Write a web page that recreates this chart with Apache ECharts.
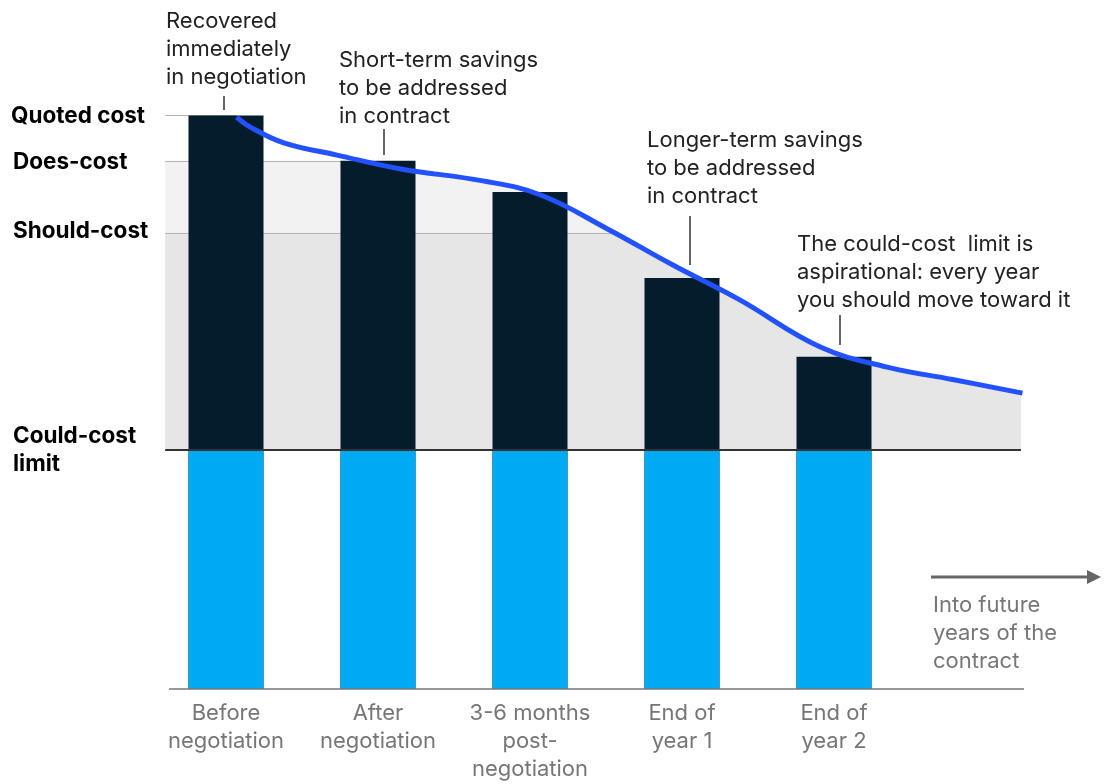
<!DOCTYPE html>
<html><head><meta charset="utf-8">
<script src="https://cdn.jsdelivr.net/npm/echarts@6/dist/echarts.min.js"></script>
<style>html,body{margin:0;padding:0;background:#fff}#c{width:1108px;height:784px}</style>
</head><body><div id="c"></div>
<script>
// ---------- data ----------
const categories = ['Before\nnegotiation', 'After\nnegotiation', '3-6 months\npost-\nnegotiation', 'End of\nyear 1', 'End of\nyear 2', ''];
const barTotals = [240, 221, 208, 172, 139];          // top of dark bars
const baseValues = [100, 100, 100, 100, 100];         // blue part up to could-cost limit
const levelNames = ['Quoted cost', 'Does-cost', 'Should-cost', 'Could-cost\nlimit'];
const levelValues = [240, 221, 191, 100];
const curveX = [1.07, 1.16, 1.38, 1.73, 2.15, 2.69, 3.07, 3.51, 3.94, 4.38, 4.91, 5.35, 5.78, 6.24];
const curveY = [239.3, 235.1, 228.5, 223.4, 217.6, 212.6, 206.7, 192.5, 177.4, 162.8, 143.1, 134.7, 129.5, 123.8];
const annotationTexts = [
  'Recovered\nimmediately\nin negotiation',
  'Short-term savings\nto be addressed\nin contract',
  'Longer-term savings\nto be addressed\nin contract',
  'The could-cost  limit is\naspirational: every year\nyou should move toward it'
];
const futureNote = 'Into future\nyears of the\ncontract';

// ---------- layout / style ----------
const FONT = 'Inter, Roboto, sans-serif';
const bandStart = 0.6, bandEnd = 6.23, axisStart = 0.625, axisEnd = 6.25;
const [quoted, doesCost, shouldCost, couldCost] = levelValues;
const bands = [
  [bandStart, bandEnd, couldCost, shouldCost],
  [bandStart, bandEnd, shouldCost, doesCost]
];
const bandColors = ['#e6e6e6', '#f2f2f2'];
const refLines = [
  [bandStart, bandEnd, quoted],
  [bandStart, bandEnd, doesCost],
  [bandStart, bandEnd, shouldCost]
];
const baseLines = [
  [bandStart, bandEnd, couldCost],
  [axisStart, axisEnd, 0]
];
const baseLineStyles = [{ stroke: '#333333', lineWidth: 2 }, { stroke: '#777777', lineWidth: 1.5 }];
const curveData = curveX.map((x, i) => [x, curveY[i]]);
const SMOOTH = 0.4;

const chart = echarts.init(document.getElementById('c'), null, { renderer: 'canvas' });
chart.setOption({
  animation: false,
  grid: { left: 150, right: 46, top: 91.5, bottom: 95 },
  xAxis: [
    {
      type: 'category', data: categories,
      axisLine: { show: false }, axisTick: { show: false },
      axisLabel: { interval: 0, color: '#767676', fontSize: 22, lineHeight: 28, fontFamily: FONT, margin: 10 }
    },
    { type: 'value', min: 0.5, max: 6.5, show: false }
  ],
  yAxis: { type: 'value', min: 0, max: 250, show: false },
  series: [
    {
      type: 'custom', name: 'bands', xAxisIndex: 1, z: 1, silent: true,
      data: bands,
      renderItem: function (params, api) {
        const p0 = api.coord([api.value(0), api.value(3)]);
        const p1 = api.coord([api.value(1), api.value(2)]);
        return { type: 'rect', shape: { x: p0[0], y: p0[1], width: p1[0] - p0[0], height: p1[1] - p0[1] },
                 style: { fill: bandColors[params.dataIndex] } };
      }
    },
    {
      type: 'custom', name: 'refLines', xAxisIndex: 1, z: 1.5, silent: true,
      data: refLines,
      renderItem: function (params, api) {
        const p0 = api.coord([api.value(0), api.value(2)]);
        const p1 = api.coord([api.value(1), api.value(2)]);
        return { type: 'line', shape: { x1: p0[0], y1: Math.round(p0[1]) + 0.5, x2: p1[0], y2: Math.round(p0[1]) + 0.5 },
                 style: { stroke: '#b3b3b3', lineWidth: 1 } };
      }
    },
    {
      type: 'line', name: 'mask', xAxisIndex: 1, z: 2, silent: true,
      data: curveData, smooth: SMOOTH, symbol: 'none',
      lineStyle: { width: 0, opacity: 0 },
      areaStyle: { color: '#ffffff', opacity: 1, origin: 'end' }
    },
    {
      type: 'bar', name: 'total', xAxisIndex: 0, z: 3, data: barTotals,
      barWidth: 75, barGap: '-100%', itemStyle: { color: '#051c2c' }
    },
    {
      type: 'bar', name: 'base', xAxisIndex: 0, z: 4, data: baseValues,
      barWidth: 75, barGap: '-100%', itemStyle: { color: '#00a9f4' }
    },
    {
      type: 'custom', name: 'baseLines', xAxisIndex: 1, z: 5, silent: true,
      data: baseLines,
      renderItem: function (params, api) {
        const p0 = api.coord([api.value(0), api.value(2)]);
        const p1 = api.coord([api.value(1), api.value(2)]);
        return { type: 'line', shape: { x1: p0[0], y1: p0[1], x2: p1[0], y2: p1[1] },
                 style: baseLineStyles[params.dataIndex] };
      }
    },
    {
      type: 'line', name: 'curve', xAxisIndex: 1, z: 6,
      data: curveData, smooth: SMOOTH, symbol: 'none',
      lineStyle: { color: '#2251ff', width: 5, cap: 'butt' }
    }
  ]
});

// ---------- texts ----------
const g = [];
function addLines(text, x, y0, step, font, fill) {
  text.split('\n').forEach((t, i) => {
    g.push({ type: 'text', z: 100, style: { text: t, x: x, y: y0 + i * step, font: font, fill: fill,
      align: 'left', verticalAlign: 'middle', textAlign: 'left', textVerticalAlign: 'middle' } });
  });
}
const yPx = v => chart.convertToPixel({ yAxisIndex: 0 }, v);
const boldFont = 'bold 22.5px ' + FONT;
addLines(levelNames[0], 11, yPx(quoted) + 1, 28, boldFont, '#000');
addLines(levelNames[1], 13, yPx(doesCost) + 1, 28, boldFont, '#000');
addLines(levelNames[2], 13, yPx(shouldCost) - 1, 28, boldFont, '#000');
addLines(levelNames[3], 13, yPx(couldCost) - 14, 28, boldFont, '#000');

const annFont = '22px ' + FONT;
const annPos = [[166, 21], [339, 60], [647, 140], [797, 244]];
annotationTexts.forEach((t, i) => addLines(t, annPos[i][0], annPos[i][1], 28, annFont, '#222'));
const leaders = [[224, 96, 110], [384, 129, 155], [690, 216, 265], [840, 315, 345]];
leaders.forEach(l => g.push({ type: 'line', z: 100, shape: { x1: l[0], y1: l[1], x2: l[0], y2: l[2] }, style: { stroke: '#333', lineWidth: 1.5 } }));

addLines(futureNote, 933, 605, 28, annFont, '#777');
g.push({ type: 'line', z: 100, shape: { x1: 931, y1: 577, x2: 1090, y2: 577 }, style: { stroke: '#666', lineWidth: 3 } });
g.push({ type: 'polygon', z: 100, shape: { points: [[1087, 570], [1101, 577], [1087, 584]] }, style: { fill: '#666' } });

chart.setOption({ graphic: g });
</script>
</body></html>
